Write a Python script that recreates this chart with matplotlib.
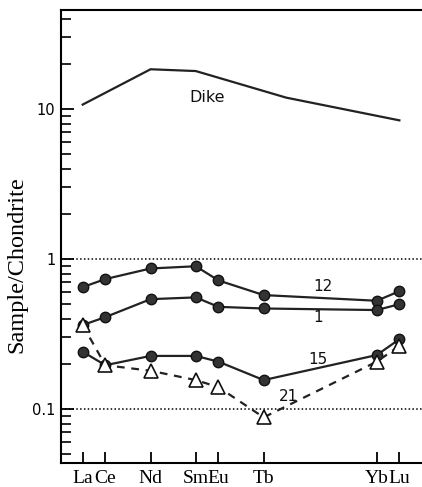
import matplotlib
matplotlib.use("Agg")
from matplotlib import pyplot as plt
from matplotlib.ticker import LogLocator, NullFormatter, FixedLocator

# element labels and atomic numbers (x positions)
elements = ["La", "Ce", "Nd", "Sm", "Eu", "Tb", "Yb", "Lu"]
atomic_no = [57, 58, 60, 62, 63, 65, 70, 71]

# Dike pattern (La, Nd, Sm, Dy, Lu)
dike_z = [57, 60, 62, 66, 71]
dike_val = [10.7, 18.4, 17.9, 11.9, 8.4]

sample_12 = [0.65, 0.735, 0.865, 0.895, 0.72, 0.575, 0.527, 0.61]
sample_1 = [0.363, 0.41, 0.54, 0.555, 0.48, 0.468, 0.457, 0.50]
sample_15 = [0.241, 0.196, 0.226, 0.226, 0.207, 0.156, 0.229, 0.292]
sample_21 = [0.363, 0.196, 0.18, 0.156, 0.14, 0.088, 0.207, 0.263]

fig = plt.figure(figsize=(4.22, 4.87), dpi=100)
ax = fig.add_axes([0.1445, 0.0493, 0.8555, 0.9302])

ax.set_yscale("log")
ax.set_xlim(56.04, 72.0)
ax.set_ylim(0.0437, 45.7)

# reference lines at 1 and 0.1
for ref in (1.0, 0.1):
    ax.axhline(ref, color="black", linestyle=(0, (1, 1.5)), linewidth=1.1, zorder=1)

ax.plot(dike_z, dike_val, color="#222222", linewidth=1.6, zorder=2)

circle_kw = dict(color="#222222", linewidth=1.6, marker="o", markersize=7.5,
                 markerfacecolor="#333333", markeredgecolor="#111111", zorder=3)
ax.plot(atomic_no, sample_12, **circle_kw)
ax.plot(atomic_no, sample_1, **circle_kw)
ax.plot(atomic_no, sample_15, **circle_kw)
ax.plot(atomic_no, sample_21, color="#222222", linewidth=1.6, linestyle=(0, (3.5, 3)),
        marker="^", markersize=10, markerfacecolor="white",
        markeredgecolor="#111111", markeredgewidth=1.2, zorder=4)

label_kw = dict(fontsize=11, ha="center", va="center", color="#111111")
ax.text(62.5, 11.9, "Dike", **dict(label_kw, fontsize=11.5))
ax.text(67.6, 0.66, "12", **label_kw)
ax.text(67.4, 0.41, "1", **label_kw)
ax.text(67.4, 0.215, "15", **label_kw)
ax.text(66.1, 0.121, "21", **label_kw)

ax.xaxis.set_major_locator(FixedLocator(atomic_no))
ax.set_xticklabels(elements, fontfamily="Liberation Serif", fontsize=14)
ax.tick_params(axis="x", direction="in", length=8, width=1.3, pad=5)

ax.yaxis.set_major_locator(FixedLocator([0.1, 1, 10]))
ax.set_yticklabels(["0.1", "1", "10"], fontsize=10.5)
ax.yaxis.set_minor_locator(LogLocator(base=10, subs=range(2, 10)))
ax.yaxis.set_minor_formatter(NullFormatter())
ax.tick_params(axis="y", which="major", direction="in", length=9, width=1.3, pad=4)
ax.tick_params(axis="y", which="minor", direction="in", length=7, width=1.2)

ax.set_ylabel("Sample/Chondrite", fontfamily="Liberation Serif", fontsize=17.5)
ax.yaxis.set_label_coords(-0.092, 0.437)

ax.spines["right"].set_visible(False)
for side in ("left", "bottom", "top"):
    ax.spines[side].set_linewidth(1.5)

fig.savefig("out.png", dpi=100)
